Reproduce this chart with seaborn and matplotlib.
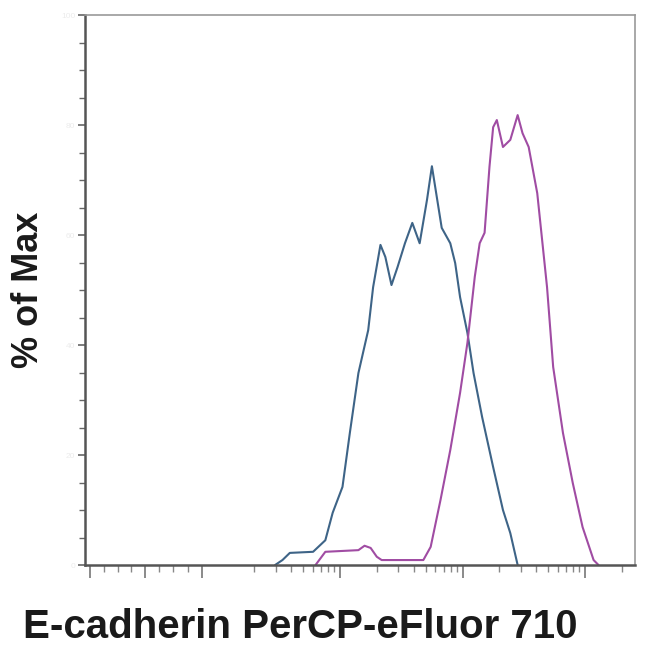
import numpy as np
import pandas as pd
import matplotlib
matplotlib.use('Agg')
import matplotlib.pyplot as plt
import seaborn as sns

# histogram outlines: x in display decades, y in % of max
blue_x = [2.47, 2.53, 2.59, 2.78, 2.88, 2.94, 3.02, 3.08, 3.15, 3.23, 3.27, 3.33,
          3.37, 3.42, 3.47, 3.53, 3.59, 3.65, 3.71, 3.75, 3.79, 3.83, 3.90, 3.94,
          3.98, 4.04, 4.09, 4.16, 4.25, 4.33, 4.39, 4.45]
blue_y = [0, 0.9, 2.2, 2.4, 4.5, 9.5, 14.2, 24.0, 34.9, 42.7, 50.5, 58.2,
          56.0, 50.9, 54.2, 58.5, 62.2, 58.5, 66.4, 72.5, 66.9, 61.3, 58.5, 54.9,
          48.7, 42.2, 34.9, 26.9, 17.8, 10.0, 5.8, 0]

pink_x = [2.80, 2.88, 3.15, 3.20, 3.25, 3.30, 3.34, 3.68, 3.74, 3.82, 3.90, 3.98,
          4.04, 4.10, 4.14, 4.18, 4.22, 4.25, 4.28, 4.33, 4.39, 4.45, 4.49, 4.54,
          4.61, 4.69, 4.74, 4.82, 4.90, 4.98, 5.07, 5.11]
pink_y = [0, 2.4, 2.7, 3.5, 3.1, 1.5, 0.9, 0.9, 3.3, 11.8, 20.9, 31.3,
          40.4, 52.4, 58.5, 60.4, 72.4, 79.6, 80.9, 76.0, 77.3, 81.8, 78.5, 76.0,
          67.6, 50.5, 36.0, 24.0, 14.9, 6.9, 0.9, 0]

x_major = [0.96, 1.41, 1.87, 3, 4, 5]
y_major = [0, 20, 40, 60, 80, 100]

df = pd.concat([
    pd.DataFrame({'x': blue_x, 'y': blue_y, 'sample': 'control'}),
    pd.DataFrame({'x': pink_x, 'y': pink_y, 'sample': 'E-cadherin'}),
])

sns.set_style('ticks')
plt.rcParams['font.family'] = ['Liberation Sans', 'DejaVu Sans']

fig = plt.figure(figsize=(6.5, 6.5), dpi=100)
ax = fig.add_axes([85 / 650, 85 / 650, 550 / 650, 550 / 650])

sns.lineplot(data=df, x='x', y='y', hue='sample', sort=False, estimator=None,
             palette={'control': '#3e6487', 'E-cadherin': '#a04ca3'},
             linewidth=1.5, legend=False, ax=ax)

ax.set_xlim(0.918, 5.408)
ax.set_ylim(0, 100)

# biexponential-style tick marks
minor_x = list(np.linspace(0.96, 1.41, 5)[1:-1]) + list(np.linspace(1.41, 1.87, 5)[1:-1])
for dec in [2, 3, 4]:
    minor_x += [dec + np.log10(k) for k in range(2, 10)]
minor_x += [5 + np.log10(2)]
ax.set_xticks(x_major)
ax.set_xticks([m for m in minor_x if m > 1.9 or m < 1.87], minor=True)
ax.set_xticklabels([])
ax.set_yticks(y_major)
ax.set_yticks(np.arange(0, 101, 5), minor=True)
ax.set_yticklabels([str(v) for v in y_major], color='#ececec', fontsize=6)

ax.tick_params(axis='x', which='major', length=9, width=1.2, color='#777777')
ax.tick_params(axis='x', which='minor', length=5, width=1.0, color='#888888')
ax.tick_params(axis='y', which='major', length=5, width=1.2, color='#666666', pad=2)
ax.tick_params(axis='y', which='minor', length=4, width=1.0, color='#666666')

for side in ['left', 'bottom']:
    ax.spines[side].set_color('#555555')
    ax.spines[side].set_linewidth(1.8)
for side in ['top', 'right']:
    ax.spines[side].set_visible(True)
    ax.spines[side].set_color('#999999')
    ax.spines[side].set_linewidth(1.2)

ax.set_xlabel('')
ax.set_ylabel('')
fig.text(28 / 650, 1 - 290 / 650, '% of Max', rotation=90, ha='center', va='center',
         fontsize=26, fontweight='bold', color='#1a1a1a')
fig.text(300 / 650, 1 - 627 / 650, 'E-cadherin PerCP-eFluor 710', ha='center', va='center',
         fontsize=29, fontweight='bold', color='#1a1a1a')

fig.savefig('out.png', dpi=100)
